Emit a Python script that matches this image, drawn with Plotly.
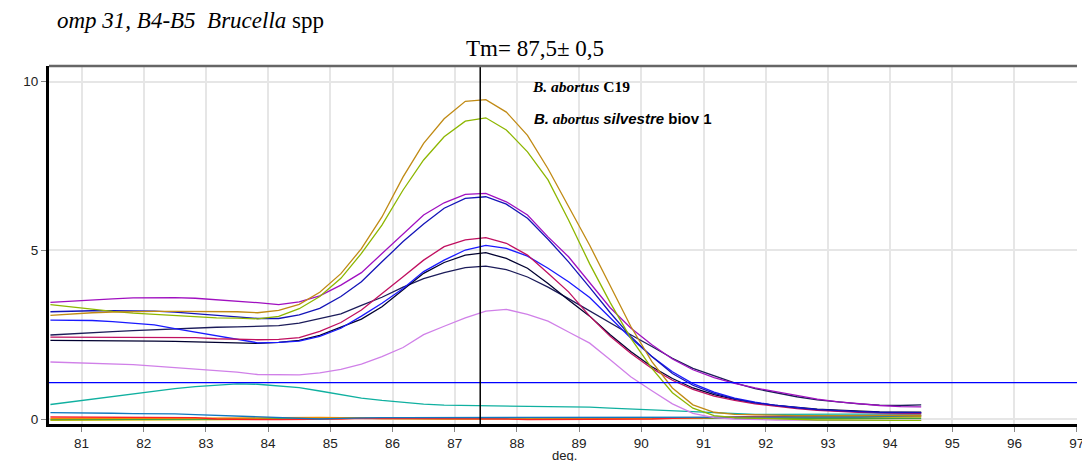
import plotly.graph_objects as go

# ---------------- data ----------------
temps = [80.5, 80.83, 81.17, 81.5, 81.83, 82.17, 82.5, 82.83, 83.17, 83.5, 83.83, 84.17, 84.5,
         84.83, 85.17, 85.5, 85.83, 86.17, 86.5, 86.83, 87.17, 87.5, 87.83, 88.17, 88.5, 88.83,
         89.17, 89.5, 89.83, 90.17, 90.5, 90.83, 91.17, 91.5, 91.83, 92.17, 92.5, 92.83, 93.17,
         93.5, 93.83, 94.17, 94.5]

gold = [3.07, 3.12, 3.15, 3.17, 3.19, 3.19, 3.19, 3.19, 3.19, 3.18, 3.15, 3.22, 3.40,
        3.76, 4.31, 5.05, 5.99, 7.18, 8.17, 8.90, 9.42, 9.47, 9.10, 8.41, 7.42, 6.28,
        5.15, 3.95, 2.75, 1.70, 0.92, 0.42, 0.20, 0.14, 0.12, 0.11, 0.10, 0.10, 0.10,
        0.10, 0.10, 0.10, 0.10]

yellowgreen = [3.39, 3.32, 3.25, 3.19, 3.14, 3.10, 3.06, 3.03, 3.00, 2.99, 2.97, 3.04, 3.27,
               3.63, 4.17, 4.91, 5.75, 6.79, 7.68, 8.37, 8.83, 8.93, 8.57, 7.92, 7.09, 5.90,
               4.60, 3.45, 2.40, 1.50, 0.78, 0.32, 0.10, 0.04, 0.02, 0.00, -0.02, -0.03, -0.03,
               -0.04, -0.04, -0.04, -0.04]

purple = [3.46, 3.50, 3.53, 3.56, 3.59, 3.60, 3.60, 3.58, 3.54, 3.50, 3.45, 3.39, 3.47,
          3.65, 3.97, 4.34, 4.91, 5.50, 6.05, 6.41, 6.66, 6.69, 6.44, 6.05, 5.40, 4.81,
          4.05, 3.30, 2.70, 2.20, 1.78, 1.46, 1.23, 1.06, 0.92, 0.80, 0.69, 0.59, 0.51,
          0.45, 0.40, 0.37, 0.36]

blue_mid = [3.18, 3.20, 3.21, 3.21, 3.21, 3.20, 3.17, 3.13, 3.08, 3.03, 2.98, 2.98, 3.09,
            3.28, 3.63, 4.07, 4.66, 5.26, 5.78, 6.25, 6.54, 6.59, 6.37, 5.95, 5.33, 4.66,
            3.90, 3.15, 2.45, 1.85, 1.35, 1.00, 0.76, 0.60, 0.48, 0.40, 0.33, 0.28, 0.24,
            0.22, 0.20, 0.19, 0.19]

crimson = [2.43, 2.43, 2.43, 2.42, 2.42, 2.42, 2.42, 2.41, 2.38, 2.36, 2.35, 2.36, 2.41,
           2.60, 2.86, 3.23, 3.73, 4.22, 4.71, 5.11, 5.31, 5.38, 5.21, 4.86, 4.32, 3.77,
           3.05, 2.45, 1.95, 1.50, 1.15, 0.88, 0.68, 0.55, 0.45, 0.37, 0.31, 0.26, 0.22,
           0.20, 0.18, 0.17, 0.17]

blue_bright = [2.93, 2.93, 2.92, 2.89, 2.84, 2.79, 2.68, 2.58, 2.47, 2.36, 2.26, 2.27, 2.31,
               2.45, 2.69, 3.05, 3.43, 3.87, 4.37, 4.71, 5.01, 5.15, 5.06, 4.83, 4.47, 4.07,
               3.60, 3.00, 2.40, 1.85, 1.40, 1.05, 0.80, 0.62, 0.50, 0.40, 0.33, 0.28, 0.24,
               0.21, 0.19, 0.18, 0.18]

navy_a = [2.33, 2.33, 2.32, 2.32, 2.31, 2.31, 2.30, 2.29, 2.28, 2.26, 2.24, 2.27, 2.33,
          2.48, 2.72, 2.96, 3.33, 3.82, 4.32, 4.64, 4.86, 4.93, 4.76, 4.47, 4.02, 3.53,
          3.05, 2.50, 2.00, 1.55, 1.20, 0.92, 0.72, 0.58, 0.48, 0.40, 0.34, 0.29, 0.26,
          0.23, 0.21, 0.20, 0.20]

navy_b = [2.49, 2.53, 2.56, 2.59, 2.62, 2.65, 2.68, 2.70, 2.72, 2.73, 2.74, 2.77, 2.84,
          2.97, 3.12, 3.37, 3.61, 3.91, 4.16, 4.34, 4.49, 4.53, 4.43, 4.21, 3.91, 3.57,
          3.20, 2.85, 2.50, 2.15, 1.80, 1.50, 1.27, 1.07, 0.90, 0.77, 0.66, 0.57, 0.50,
          0.45, 0.41, 0.40, 0.42]

orchid = [1.69, 1.67, 1.66, 1.64, 1.61, 1.57, 1.53, 1.49, 1.44, 1.39, 1.32, 1.31, 1.31,
          1.37, 1.47, 1.63, 1.85, 2.12, 2.50, 2.75, 3.00, 3.20, 3.25, 3.10, 2.90, 2.58,
          2.25, 1.76, 1.25, 0.84, 0.45, 0.17, 0.04, 0.00, -0.02, -0.03, -0.03, -0.04, -0.04,
          -0.04, -0.04, -0.04, -0.04]

teal = [0.43, 0.51, 0.59, 0.67, 0.75, 0.83, 0.90, 0.96, 1.01, 1.04, 1.03, 0.99, 0.93,
        0.83, 0.72, 0.62, 0.55, 0.49, 0.44, 0.41, 0.40, 0.40, 0.40, 0.39, 0.37, 0.36,
        0.35, 0.32, 0.29, 0.27, 0.25, 0.22, 0.19, 0.16, 0.14, 0.14, 0.14, 0.14, 0.14,
        0.14, 0.15, 0.15, 0.15]

steelblue = [0.19, 0.19, 0.19, 0.17, 0.16, 0.16, 0.15, 0.13, 0.11, 0.10, 0.08, 0.06, 0.04,
             0.00, 0.02, 0.04, 0.04, 0.04, 0.04, 0.04, 0.04, 0.04, 0.04, 0.04, 0.04, 0.04,
             0.04, 0.04, 0.04, 0.04, 0.04, 0.05, 0.05, 0.05, 0.05, 0.05, 0.06, 0.06, 0.06,
             0.06, 0.07, 0.08, 0.10]

red = [0.06, 0.06, 0.06, 0.06, 0.06, 0.06, 0.06, 0.04, 0.00, -0.02, -0.02, -0.02, -0.02,
       -0.02, 0.00, 0.02, 0.02, 0.02, 0.02, 0.02, 0.02, 0.02, 0.00, -0.02, -0.02, -0.02,
       -0.02, -0.02, -0.02, 0.00, 0.02, 0.04, 0.06, 0.08, 0.08, 0.08, 0.09, 0.09, 0.10,
       0.10, 0.11, 0.12, 0.12]

olive = [-0.04, -0.04, -0.04, -0.04, -0.04, -0.04, -0.04, -0.03, -0.02, -0.02, -0.01, 0.00, 0.02,
         0.03, 0.03, 0.02, 0.01, 0.00, 0.00, 0.00, 0.00, 0.00, 0.00, 0.00, 0.00, 0.00,
         0.00, 0.00, 0.00, 0.00, 0.00, 0.00, 0.02, 0.03, 0.04, 0.05, 0.05, 0.05, 0.05,
         0.05, 0.05, 0.06, 0.06]

green = [-0.02, -0.02, -0.02, -0.02, -0.02, -0.02, -0.01, -0.01, 0.00, 0.01, 0.02, 0.03, 0.04,
         0.04, 0.04, 0.03, 0.02, 0.02, 0.02, 0.02, 0.02, 0.02, 0.02, 0.02, 0.02, 0.02,
         0.02, 0.02, 0.02, 0.02, 0.02, 0.02, 0.02, 0.02, 0.02, 0.02, 0.02, 0.02, 0.02,
         0.02, 0.02, 0.02, 0.02]

orange = [0.01, 0.01, 0.01, 0.01, 0.01, 0.01, 0.01, 0.01, 0.01, 0.02, 0.03, 0.04, 0.05,
          0.05, 0.04, 0.02, 0.01, 0.01, 0.01, 0.01, 0.01, 0.01, 0.01, 0.01, 0.01, 0.01,
          0.01, 0.01, 0.01, 0.01, 0.02, 0.03, 0.04, 0.05, 0.06, 0.06, 0.07, 0.07, 0.07,
          0.07, 0.08, 0.08, 0.08]

threshold = 1.08
tm_position = 87.41
x_ticks = list(range(81, 98))
y_ticks = [0, 5, 10]
x_range = [80.477, 97.005]
y_range = [-0.148, 10.466]

series = [
    ("olive", olive, "#c8c000"),
    ("green", green, "#40a040"),
    ("orange", orange, "#f08c00"),
    ("red", red, "#ff2020"),
    ("steelblue", steelblue, "#1078c0"),
    ("teal", teal, "#10b0a0"),
    ("orchid", orchid, "#d080e8"),
    ("navy_b", navy_b, "#1c1c5a"),
    ("navy_a", navy_a, "#000030"),
    ("blue_bright", blue_bright, "#1a1aff"),
    ("crimson", crimson, "#c01060"),
    ("blue_mid", blue_mid, "#1414b8"),
    ("purple", purple, "#a010c0"),
    ("yellowgreen", yellowgreen, "#8db600"),
    ("gold", gold, "#c08a14"),
]

fig = go.Figure()
for name, vals, color in series:
    fig.add_trace(go.Scatter(x=temps, y=vals, mode="lines", name=name,
                             line=dict(color=color, width=1.3),
                             showlegend=False, hoverinfo="skip"))

fig.add_trace(go.Scatter(x=x_range, y=[threshold, threshold], mode="lines",
                         line=dict(color="#0000ff", width=1.3),
                         showlegend=False, hoverinfo="skip"))

# Tm vertical line and top border
fig.add_shape(type="line", xref="x", yref="paper", x0=tm_position, x1=tm_position,
              y0=0, y1=1, line=dict(color="#000000", width=1.5))
fig.add_shape(type="line", xref="paper", yref="paper", x0=0, x1=1, y0=1, y1=1,
              line=dict(color="#666666", width=2.5))

serif = "Liberation Serif, Times New Roman, serif"
sans = "Liberation Sans, Arial, sans-serif"

annotations = [
    dict(text="<i>omp 31, B4-B5\u00a0 Brucella</i> spp", x=0.0058, y=1.128,
         xanchor="left", yanchor="middle", font=dict(family=serif, size=23, color="#000")),
    dict(text="Tm= 87,5\u00b1 0,5", x=0.4728, y=1.050,
         xanchor="center", yanchor="middle", font=dict(family=serif, size=23, color="#000")),
    dict(text="<b><i>B. abortus</i> C19</b>", x=0.4679, y=0.942,
         xanchor="left", yanchor="middle", font=dict(family=serif, size=15.5, color="#000")),
    dict(text=("<b><span style='font-family:Liberation Sans'><i>B.</i></span> "
                "<i>abortus</i> "
                "<span style='font-family:Liberation Sans'><i>silvestre</i> biov 1</span></b>"),
         x=0.4696, y=0.854, xanchor="left", yanchor="middle",
         font=dict(family=serif, size=15, color="#000")),
    dict(text="deg.", x=0.4874, y=-0.087, xanchor="left", yanchor="middle",
         font=dict(family=sans, size=13, color="#222")),
]
for a in annotations:
    fig.add_annotation(xref="paper", yref="paper", showarrow=False, **a)

fig.update_layout(
    width=1082, height=461,
    margin=dict(l=49, r=5, t=66, b=37, autoexpand=False),
    paper_bgcolor="white", plot_bgcolor="white",
    font=dict(family=sans, size=13, color="#222"),
    showlegend=False,
)
fig.update_xaxes(range=x_range, tickvals=x_ticks, ticktext=[str(t) for t in x_ticks],
                 showgrid=True, gridcolor="#e6e6e6", gridwidth=1.5,
                 showline=True, linecolor="#000", linewidth=3,
                 ticks="outside", ticklen=5, tickcolor="#888", tickwidth=1,
                 ticklabeloverflow="allow", automargin=False,
                 zeroline=False, tickfont=dict(family=sans, size=13.5, color="#222"))
fig.update_yaxes(range=y_range, tickvals=y_ticks, ticktext=[str(t) for t in y_ticks],
                 showgrid=True, gridcolor="#e6e6e6", gridwidth=1.5,
                 showline=True, linecolor="#000", linewidth=3,
                 ticks="outside", ticklen=5, tickcolor="#888", tickwidth=1,
                 automargin=False,
                 zeroline=False, tickfont=dict(family=sans, size=13.5, color="#222"))

fig.write_html("out.html", config={"displayModeBar": False},
               post_script="document.body.style.margin='0';document.body.style.overflow='hidden';")
